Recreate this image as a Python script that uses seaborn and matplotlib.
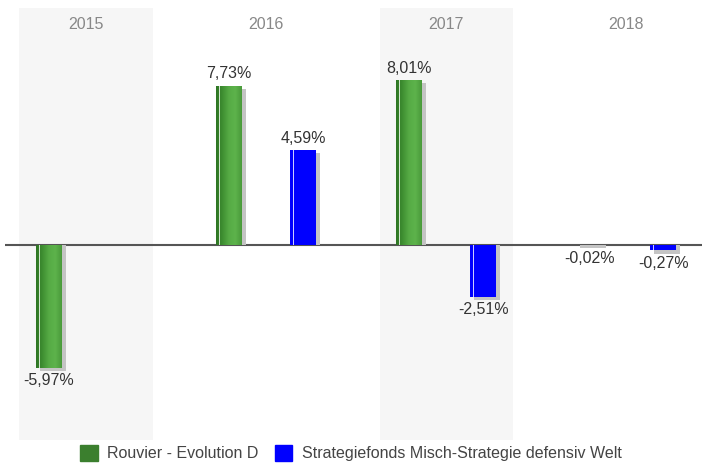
import numpy as np
import pandas as pd
import matplotlib
matplotlib.use("Agg")
import matplotlib.pyplot as plt
import matplotlib.patches as mpatches
from matplotlib.colors import LinearSegmentedColormap
import seaborn as sns

# Datos
years = ["2015", "2016", "2017", "2018"]
series_names = ["Rouvier - Evolution D", "Strategiefonds Misch-Strategie defensiv Welt"]
rouvier = [-5.97, 7.73, 8.01, -0.02]
misch = [np.nan, 4.59, -2.51, -0.27]

df = pd.DataFrame({
    "year": years * 2,
    "fund": [series_names[0]] * 4 + [series_names[1]] * 4,
    "value": rouvier + misch,
})

green = "#3b7f2e"
blue = "#0000ff"

sns.set_theme(style="white")
plt.rcParams["font.family"] = ["Liberation Sans", "DejaVu Sans"]

fig = plt.figure(figsize=(7.02, 4.70), dpi=100)
ax = fig.add_axes([0.007, 0.064, 0.993, 0.919])

sns.barplot(data=df, x="year", y="value", hue="fund", order=years,
            hue_order=series_names, palette=[green, blue], saturation=1,
            width=0.82, gap=0.65, dodge=True, legend=False, ax=ax, zorder=3,
            linewidth=0)

# Bandas de fondo alternas
for i in range(len(years)):
    if i % 2 == 0:
        ax.axvspan(i - 0.37, i + 0.37, color="#f6f6f6", zorder=0, lw=0)

ax.set_xlim(-0.45, 3.42)
ax.set_ylim(-9.47, 11.5)

# Sombras, degradado y etiquetas
green_cmap = LinearSegmentedColormap.from_list(
    "g", ["#2e7524", "#3f8f32", "#56ab45", "#5db34b", "#4a9a3b"])
grad = np.linspace(0, 1, 64).reshape(1, -1)
for k, container in enumerate(ax.containers):
    for bar in container:
        h = bar.get_height()
        if np.isnan(h):
            continue
        x0 = bar.get_x()
        w = bar.get_width()
        if h >= 0:
            shadow = mpatches.Rectangle((x0 + 0.022, 0), w, max(h - 0.15, 0),
                                        color="#c4c4c4", zorder=2, lw=0)
        else:
            shadow = mpatches.Rectangle((x0 + 0.022, h - 0.15), w, -h + 0.15,
                                        color="#c4c4c4", zorder=2, lw=0)
        ax.add_patch(shadow)
        if k == 0:
            im = ax.imshow(grad, cmap=green_cmap, aspect="auto",
                           extent=(x0, x0 + w, min(0, h), max(0, h)), zorder=4)
            im.set_clip_path(bar)
        # raya blanca
        ax.add_patch(mpatches.Rectangle((x0 + w * 0.1, min(0, h)), w * 0.05, abs(h),
                                        color="white", alpha=0.8, zorder=5, lw=0))
        label = f"{h:.2f}%".replace(".", ",")
        if h >= 0:
            ax.annotate(label, (x0 + w / 2, h), xytext=(0, 3), textcoords="offset points",
                        ha="center", va="bottom", fontsize=11.5, color="#333333", zorder=6)
        else:
            ax.annotate(label, (x0 + w / 2, h), xytext=(0, -4), textcoords="offset points",
                        ha="center", va="top", fontsize=11.5, color="#333333", zorder=6)

ax.set_xlim(-0.45, 3.42)
ax.set_ylim(-9.47, 11.5)

# Linea cero
ax.axhline(0, color="#555555", lw=1.5, zorder=1)

# Etiquetas de los años arriba
for i, y in enumerate(years):
    ax.text(i, 10.7, y, ha="center", va="center", fontsize=11.5, color="#888888")

ax.set_xticks([])
ax.set_yticks([])
ax.set_xlabel("")
ax.set_ylabel("")
for s in ax.spines.values():
    s.set_visible(False)

handles = [mpatches.Patch(color=green, label=series_names[0]),
           mpatches.Patch(color=blue, label=series_names[1])]
fig.legend(handles=handles, loc="lower center", ncol=2, frameon=False,
           fontsize=11.5, handlelength=1.1, handleheight=1.1, columnspacing=1.0,
           handletextpad=0.6, bbox_to_anchor=(0.5, -0.012), labelcolor="#444444")

fig.savefig("out.png", dpi=100)
